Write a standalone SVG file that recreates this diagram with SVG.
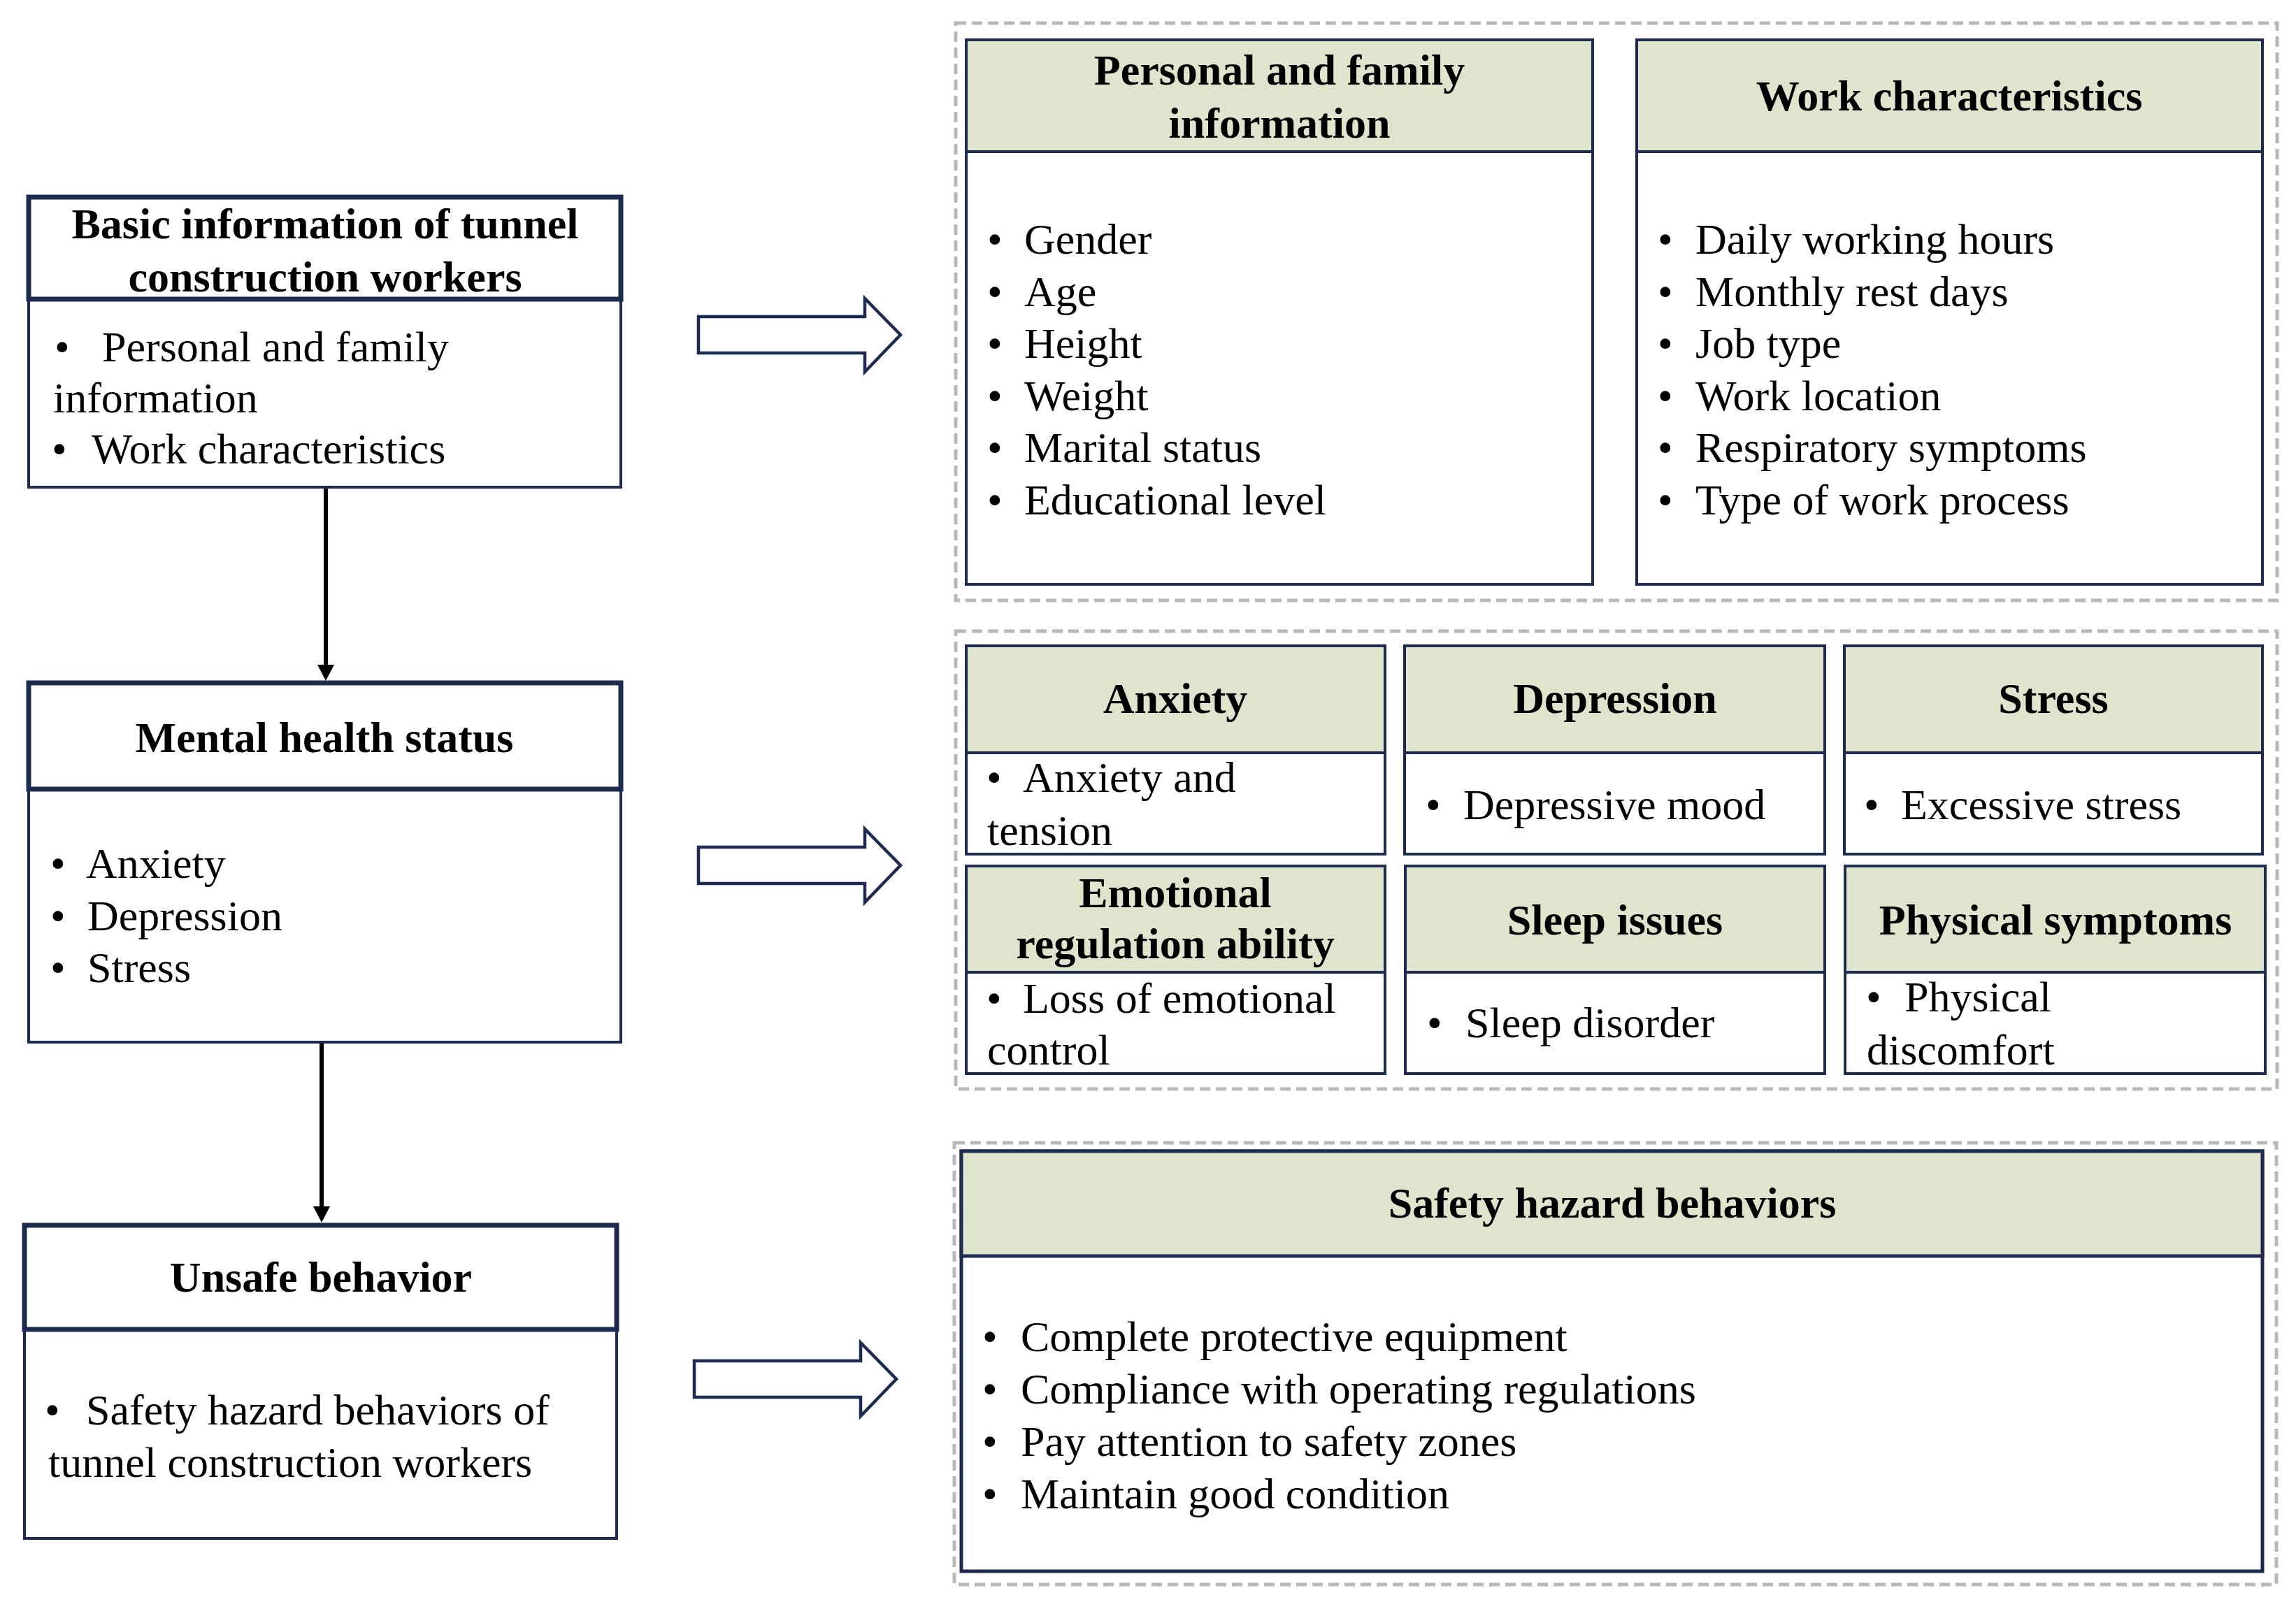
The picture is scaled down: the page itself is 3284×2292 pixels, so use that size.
<svg xmlns="http://www.w3.org/2000/svg" width="3284" height="2292" viewBox="0 0 3284 2292">
<style>
.bg{fill:#ffffff}
.dash{fill:none;stroke:#b8b8b8;stroke-width:5;stroke-dasharray:15 8}
.lh{fill:#ffffff;stroke:#1c2b4f;stroke-width:7}
.lb{fill:#ffffff;stroke:#1c2b4f;stroke-width:4}
.rb{fill:#ffffff;stroke:#1c2b4f;stroke-width:4}
.rh{fill:#dfe4cd;stroke:#1c2b4f;stroke-width:4}
.blk{fill:#ffffff;stroke:#1c2b4f;stroke-width:4.5;stroke-linejoin:miter}
.ht{font-family:"Liberation Serif","Times New Roman",serif;font-weight:bold;font-size:62px;fill:#000;text-anchor:middle}
.bt{font-family:"Liberation Serif","Times New Roman",serif;font-size:62px;fill:#000}
.conn{stroke:#000;stroke-width:6;fill:none}
.ah{fill:#000}
</style>
<rect class="bg" x="0" y="0" width="3284" height="2292"/>

<g id="connectors">
  <line class="conn" x1="466" y1="697" x2="466" y2="953"/>
  <polygon class="ah" points="454,951 478,951 466,974"/>
  <line class="conn" x1="460" y1="1491" x2="460" y2="1728"/>
  <polygon class="ah" points="448,1726 472,1726 460,1749"/>
  <path class="blk" d="M999,453 L1237,453 L1237,427 L1288,479 L1237,532 L1237,505 L999,505 Z"/>
  <path class="blk" d="M999,1212 L1237,1212 L1237,1186 L1288,1238 L1237,1291 L1237,1264 L999,1264 Z"/>
  <path class="blk" d="M993,1947 L1231,1947 L1231,1921 L1282,1973 L1231,2026 L1231,1999 L993,1999 Z"/>
</g>

<g id="basic-info">
  <rect class="lb" x="41" y="428" width="847" height="269"/>
  <rect class="lh" x="41" y="282" width="847" height="146"/>
  <text class="ht" x="465" y="341">Basic information of tunnel</text>
  <text class="ht" x="465" y="417">construction workers</text>
  <text class="bt" y="517"><tspan x="78">•</tspan><tspan x="146">Personal and family</tspan></text>
  <text class="bt" x="76" y="590">information</text>
  <text class="bt" y="663"><tspan x="74">•</tspan><tspan x="131">Work characteristics</tspan></text>
</g>

<g id="mental-health">
  <rect class="lb" x="41" y="1129" width="847" height="362"/>
  <rect class="lh" x="41" y="977" width="847" height="152"/>
  <text class="ht" x="464" y="1076">Mental health status</text>
  <text class="bt" y="1256"><tspan x="72">•</tspan><tspan x="123">Anxiety</tspan></text>
  <text class="bt" y="1331"><tspan x="72">•</tspan><tspan x="125">Depression</tspan></text>
  <text class="bt" y="1405"><tspan x="72">•</tspan><tspan x="125">Stress</tspan></text>
</g>

<g id="unsafe-behavior">
  <rect class="lb" x="35" y="1902" width="847" height="299"/>
  <rect class="lh" x="35" y="1753" width="847" height="149"/>
  <text class="ht" x="459" y="1848">Unsafe behavior</text>
  <text class="bt" y="2038"><tspan x="64">•</tspan><tspan x="123">Safety hazard behaviors of</tspan></text>
  <text class="bt" x="69" y="2113">tunnel construction workers</text>
</g>

<g id="group-basic">
  <rect class="dash" x="1367" y="33" width="1890" height="826"/>
</g>

<g id="personal-family">
  <rect class="rb" x="1382" y="57" width="896" height="779"/>
  <rect class="rh" x="1382" y="57" width="896" height="160"/>
  <text class="ht" x="1830" y="121">Personal and family</text>
  <text class="ht" x="1830" y="197">information</text>
  <text class="bt" y="363"><tspan x="1412">•</tspan><tspan x="1465">Gender</tspan></text>
  <text class="bt" y="438"><tspan x="1412">•</tspan><tspan x="1465">Age</tspan></text>
  <text class="bt" y="512"><tspan x="1412">•</tspan><tspan x="1465">Height</tspan></text>
  <text class="bt" y="587"><tspan x="1412">•</tspan><tspan x="1465">Weight</tspan></text>
  <text class="bt" y="661"><tspan x="1412">•</tspan><tspan x="1465">Marital status</tspan></text>
  <text class="bt" y="736"><tspan x="1412">•</tspan><tspan x="1465">Educational level</tspan></text>
</g>

<g id="work-characteristics">
  <rect class="rb" x="2341" y="57" width="895" height="779"/>
  <rect class="rh" x="2341" y="57" width="895" height="160"/>
  <text class="ht" x="2788" y="158">Work characteristics</text>
  <text class="bt" y="363"><tspan x="2371">•</tspan><tspan x="2425">Daily working hours</tspan></text>
  <text class="bt" y="438"><tspan x="2371">•</tspan><tspan x="2425">Monthly rest days</tspan></text>
  <text class="bt" y="512"><tspan x="2371">•</tspan><tspan x="2425">Job type</tspan></text>
  <text class="bt" y="587"><tspan x="2371">•</tspan><tspan x="2425">Work location</tspan></text>
  <text class="bt" y="661"><tspan x="2371">•</tspan><tspan x="2425">Respiratory symptoms</tspan></text>
  <text class="bt" y="736"><tspan x="2371">•</tspan><tspan x="2425">Type of work process</tspan></text>
</g>

<g id="group-mental">
  <rect class="dash" x="1367" y="903" width="1890" height="655"/>
</g>

<g id="anxiety">
  <rect class="rb" x="1382" y="924" width="599" height="298"/>
  <rect class="rh" x="1382" y="924" width="599" height="153"/>
  <text class="ht" x="1681" y="1020">Anxiety</text>
  <text class="bt" y="1133"><tspan x="1411">•</tspan><tspan x="1463">Anxiety and</tspan></text>
  <text class="bt" x="1412" y="1209">tension</text>
</g>

<g id="depression">
  <rect class="rb" x="2009" y="924" width="601" height="298"/>
  <rect class="rh" x="2009" y="924" width="601" height="153"/>
  <text class="ht" x="2310" y="1020">Depression</text>
  <text class="bt" y="1172"><tspan x="2039">•</tspan><tspan x="2093">Depressive mood</tspan></text>
</g>

<g id="stress">
  <rect class="rb" x="2638" y="924" width="598" height="298"/>
  <rect class="rh" x="2638" y="924" width="598" height="153"/>
  <text class="ht" x="2937" y="1020">Stress</text>
  <text class="bt" y="1172"><tspan x="2666">•</tspan><tspan x="2719">Excessive stress</tspan></text>
</g>

<g id="emotional-regulation">
  <rect class="rb" x="1382" y="1239" width="599" height="297"/>
  <rect class="rh" x="1382" y="1239" width="599" height="152"/>
  <text class="ht" x="1681" y="1298">Emotional</text>
  <text class="ht" x="1681" y="1371">regulation ability</text>
  <text class="bt" y="1449"><tspan x="1411">•</tspan><tspan x="1463">Loss of emotional</tspan></text>
  <text class="bt" x="1412" y="1523">control</text>
</g>

<g id="sleep-issues">
  <rect class="rb" x="2010" y="1239" width="600" height="297"/>
  <rect class="rh" x="2010" y="1239" width="600" height="152"/>
  <text class="ht" x="2310" y="1337">Sleep issues</text>
  <text class="bt" y="1484"><tspan x="2041">•</tspan><tspan x="2096">Sleep disorder</tspan></text>
</g>

<g id="physical-symptoms">
  <rect class="rb" x="2639" y="1239" width="601" height="297"/>
  <rect class="rh" x="2639" y="1239" width="601" height="152"/>
  <text class="ht" x="2940" y="1337">Physical symptoms</text>
  <text class="bt" y="1447"><tspan x="2669">•</tspan><tspan x="2724">Physical</tspan></text>
  <text class="bt" x="2670" y="1523">discomfort</text>
</g>

<g id="group-safety">
  <rect class="dash" x="1365" y="1635" width="1891" height="632"/>
</g>

<g id="safety-hazard">
  <rect class="rb" x="1375" y="1647" width="1861" height="601" style="stroke-width:5"/>
  <rect class="rh" x="1375" y="1647" width="1861" height="150" style="stroke-width:5"/>
  <text class="ht" x="2306" y="1742">Safety hazard behaviors</text>
  <text class="bt" y="1933"><tspan x="1405">•</tspan><tspan x="1460">Complete protective equipment</tspan></text>
  <text class="bt" y="2008"><tspan x="1405">•</tspan><tspan x="1460">Compliance with operating regulations</tspan></text>
  <text class="bt" y="2083"><tspan x="1405">•</tspan><tspan x="1460">Pay attention to safety zones</tspan></text>
  <text class="bt" y="2158"><tspan x="1405">•</tspan><tspan x="1460">Maintain good condition</tspan></text>
</g>
</svg>
